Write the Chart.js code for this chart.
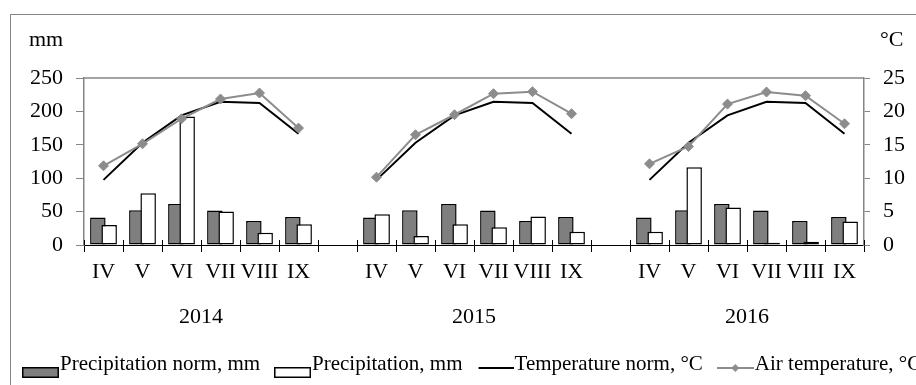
<!DOCTYPE html>
<html>
<head>
<meta charset="utf-8">
<script src="https://cdn.jsdelivr.net/npm/chart.js@4.4.1/dist/chart.umd.min.js"></script>
<style>
html,body{margin:0;padding:0;background:#fff;overflow:hidden}
canvas{display:block}
</style>
</head>
<body>
<canvas id="Chart1HTML" width="1000" height="385"></canvas>
<script>
let Chart1

const MONTHS=['IV','V','VI','VII','VIII','IX']
const YEARS=['2014','2015','2016']

const PrecipNorm=[41,52,61.5,51.5,36,42]
const Precip2014=[30,77.5,192.5,50,18.5,31]
const Precip2015=[46,13.5,31,26.5,42.5,20]
const Precip2016=[20,116.5,56,3.5,5,35]

const TempNorm=[9.75,15.3,19.4,21.45,21.25,16.65]
const Air2014=[11.85,15.15,18.9,21.85,22.75,17.5]
const Air2015=[10.15,16.5,19.5,22.65,22.95,19.65]
const Air2016=[12.15,14.75,21.1,22.9,22.35,18.15]

const MM_MAX=250, MM_STEP=50
const C_MAX=25, C_STEP=5

const DARK='#7f7f7f', LINEGRAY='#8c8c8c', AXISGRAY='#868686'
const FONT="'Liberation Serif','Times New Roman',serif"

// one empty category between the years
function ByYear(a,b,c){return [...a,null,...b,null,...c]}
const LABELS=ByYear(MONTHS,MONTHS,MONTHS).map(l=>l===null?'':l)

function Symbol1(draw){
let c=document.createElement('canvas');c.width=37;c.height=31
draw(c.getContext('2d'));return c
}
const SYMBOLS=[
Symbol1(x=>{x.fillStyle=DARK;x.fillRect(0,18,37,11);x.strokeStyle='#000';x.lineWidth=1.5;x.strokeRect(0.75,18.75,35.5,9.5)}),
Symbol1(x=>{x.fillStyle='#fff';x.fillRect(0,18,37,11);x.strokeStyle='#000';x.lineWidth=1.5;x.strokeRect(0.75,18.75,35.5,9.5)}),
Symbol1(x=>{x.strokeStyle='#000';x.lineWidth=2;x.beginPath();x.moveTo(2,19);x.lineTo(37,19);x.stroke()}),
Symbol1(x=>{x.strokeStyle=LINEGRAY;x.lineWidth=2;x.beginPath();x.moveTo(0,19);x.lineTo(37,19);x.stroke()
x.fillStyle=LINEGRAY;x.beginPath();x.moveTo(18.5,15);x.lineTo(22.5,19);x.lineTo(18.5,23);x.lineTo(14.5,19);x.closePath();x.fill()})
]

// white bars overlap the dark ones, so draw them after
const whiteOnTop={
id:'whiteOnTop',
beforeDatasetDraw(chart,args){if(args.index===1){return false}},
afterDatasetDraw(chart,args){if(args.index===0){chart.getDatasetMeta(1).controller.draw()}}
}

const decor={
id:'decor',
beforeDraw(chart){
let ctx=chart.ctx
ctx.save();ctx.strokeStyle=AXISGRAY;ctx.lineWidth=1
ctx.strokeRect(10.5,14.5,1400,800)
ctx.restore()
},
beforeDatasetsDraw(chart){
let ctx=chart.ctx,a=chart.chartArea,x=chart.scales.x
ctx.save()
ctx.strokeStyle=AXISGRAY;ctx.lineWidth=1.5
ctx.beginPath();ctx.moveTo(a.left,a.top);ctx.lineTo(a.right,a.top);ctx.stroke()
let half=(x.getPixelForValue(1)-x.getPixelForValue(0))/2
ctx.strokeStyle='#000';ctx.lineWidth=1
ctx.beginPath()
for(let i=0;i<=LABELS.length;i++){
let px=Math.round(x.getPixelForValue(i)-half)+0.5
ctx.moveTo(px,a.bottom-5);ctx.lineTo(px,a.bottom)
}
ctx.stroke()
ctx.restore()
},
afterDraw(chart){
let ctx=chart.ctx,a=chart.chartArea,x=chart.scales.x
ctx.save()
ctx.fillStyle='#000';ctx.font='22px '+FONT;ctx.textBaseline='middle'
ctx.textAlign='left'
ctx.fillText('mm',29,40)
ctx.fillText('°C',a.right+16,40)
ctx.textAlign='center'
YEARS.forEach((y,k)=>{
let s=k*(MONTHS.length+1)
ctx.fillText(y,(x.getPixelForValue(s+2)+x.getPixelForValue(s+3))/2,x.top+72)
})
ctx.restore()
}
}

function LoadC1(){
Chart.defaults.font.family=FONT
Chart.defaults.font.size=22
Chart.defaults.color='#000'
Chart1=new Chart(
document.getElementById('Chart1HTML'),
{
type:'bar',
data:{
labels:LABELS,
datasets:[
{label:'Precipitation norm, mm',data:ByYear(PrecipNorm,PrecipNorm,PrecipNorm),backgroundColor:DARK,borderColor:'#000',borderWidth:1.5,borderSkipped:false,categoryPercentage:0.58,barPercentage:1.37,yAxisID:'y',order:3},
{label:'Precipitation, mm',data:ByYear(Precip2014,Precip2015,Precip2016),backgroundColor:'#fff',borderColor:'#000',borderWidth:1.5,borderSkipped:false,categoryPercentage:0.58,barPercentage:1.37,yAxisID:'y',order:4},
{label:'Temperature norm, °C',type:'line',data:ByYear(TempNorm,TempNorm,TempNorm),borderColor:'#000',borderWidth:2,pointRadius:0,tension:0,spanGaps:false,yAxisID:'y1',order:2},
{label:'Air temperature, °C',type:'line',data:ByYear(Air2014,Air2015,Air2016),borderColor:LINEGRAY,borderWidth:2,pointStyle:'rectRot',pointRadius:5,pointBackgroundColor:LINEGRAY,pointBorderColor:LINEGRAY,pointBorderWidth:1,tension:0,spanGaps:false,yAxisID:'y1',order:1}
]
},
options:{
responsive:false,
animation:false,
events:[],
layout:{padding:{left:8,right:8,top:78,bottom:0}},
scales:{
x:{type:'category',offset:true,
grid:{offset:true,drawOnChartArea:false,color:'#000',tickLength:7,lineWidth:1},
border:{color:'#000',width:1},
ticks:{autoSkip:false,maxRotation:0,minRotation:0,padding:7,color:'#000'},
afterFit(s){s.height=85.5}},
y:{position:'left',min:0,max:MM_MAX,
ticks:{stepSize:MM_STEP,padding:13,color:'#000'},
grid:{drawOnChartArea:false,color:AXISGRAY,tickLength:8},
border:{color:AXISGRAY,width:1.5},
afterFit(s){s.width=76}},
y1:{position:'right',min:0,max:C_MAX,
ticks:{stepSize:C_STEP,padding:13,color:'#000'},
grid:{drawOnChartArea:false,color:AXISGRAY,tickLength:6},
border:{color:AXISGRAY,width:1.5},
afterFit(s){s.width=128}}
},
plugins:{
title:{display:false},
tooltip:{enabled:false},
legend:{position:'bottom',align:'start',
labels:{usePointStyle:true,pointStyleWidth:18,padding:23.5,color:'#000',font:{size:21,family:FONT},
generateLabels(chart){return chart.data.datasets.map((ds,i)=>({text:ds.label,pointStyle:SYMBOLS[i],datasetIndex:i,hidden:false,fillStyle:'#fff',strokeStyle:'#fff',lineWidth:0,fontColor:'#000'}))}}}
}
},
plugins:[whiteOnTop,decor]
}
)
}

LoadC1()
</script>
</body>
</html>
